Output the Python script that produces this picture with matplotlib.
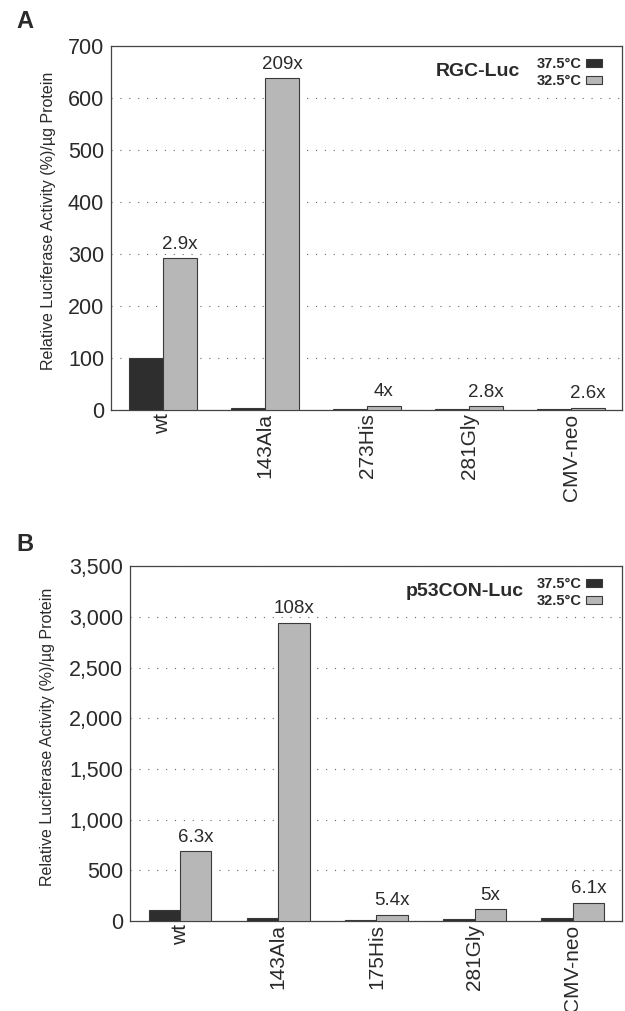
import matplotlib
matplotlib.use("Agg")
import matplotlib.pyplot as plt
import matplotlib.ticker as mticker
import numpy as np

plt.rcParams['font.family'] = ['Liberation Sans', 'DejaVu Sans']

# panel A: RGC-Luc
groups_a = ['wt', '143Ala', '273His', '281Gly', 'CMV-neo']
a_375 = [100, 3, 2, 2.5, 1.5]
a_325 = [292, 638, 8, 7, 4]
fold_a = ['2.9x', '209x', '4x', '2.8x', '2.6x']
ticks_a = [0, 100, 200, 300, 400, 500, 600, 700]

# panel B: p53CON-Luc
groups_b = ['wt', '143Ala', '175His', '281Gly', 'CMV-neo']
b_375 = [105, 27, 10, 20, 26]
b_325 = [690, 2940, 60, 115, 180]
fold_b = ['6.3x', '108x', '5.4x', '5x', '6.1x']
ticks_b = [0, 500, 1000, 1500, 2000, 2500, 3000, 3500]

temps = ['37.5°C', '32.5°C']
ylab = 'Relative Luciferase Activity (%)/µg Protein'

DARK = '#2e2e2e'
LIGHT = '#b7b7b7'
EDGE = '#3a3a3a'
TXT = '#2a2a2a'


def draw_panel(ax, groups, low, high, folds, ticks, title, title_x, width):
    x = np.arange(len(groups))
    b1 = ax.bar(x - width / 2, low, width, color=DARK, edgecolor=EDGE,
                linewidth=0.8, label=temps[0], zorder=3)
    b2 = ax.bar(x + width / 2, high, width, color=LIGHT, edgecolor=EDGE,
                linewidth=0.8, label=temps[1], zorder=3)
    for rect, lab in zip(b2, folds):
        ax.annotate(lab, (rect.get_x() + rect.get_width() / 2, rect.get_height()),
                    xytext=(0, 4), textcoords='offset points', ha='center',
                    va='bottom', fontsize=13.5, color=TXT)
    ax.set_xlim(-0.51, len(groups) - 0.5)
    ax.set_ylim(ticks[0], ticks[-1])
    ax.set_yticks(ticks)
    ax.yaxis.set_major_formatter(mticker.FuncFormatter(lambda v, p: f'{int(v):,}'))
    ax.set_xticks(x)
    ax.set_xticklabels(groups, rotation=90, fontsize=15, color=TXT)
    ax.tick_params(axis='y', length=0, labelsize=15.5, labelcolor=TXT, pad=5)
    ax.tick_params(axis='x', length=0, pad=2.5)
    ax.yaxis.grid(True, linestyle=(0, (1, 7)), color='#666666', linewidth=0.8, zorder=0)
    for s in ax.spines.values():
        s.set_color('#444444')
        s.set_linewidth(0.9)
    ax.set_ylabel(ylab, fontsize=11.5, color=TXT)
    ax.text(title_x, 0.93, title, transform=ax.transAxes, ha='center', va='center',
            fontsize=14, fontweight='bold', color=TXT)
    ax.legend(handles=[b1, b2], markerfirst=False, frameon=False, loc='upper right',
              bbox_to_anchor=(0.975, 0.99), handlelength=1.1,
              handleheight=0.45, handletextpad=0.3, labelspacing=0.2,
              borderpad=0, labelcolor=TXT,
              prop={'size': 10.5, 'weight': 'bold'})


fig = plt.figure(figsize=(6.25, 10.11), dpi=100)
ax_a = fig.add_axes([0.1776, 0.5945, 0.8176, 0.360])
ax_b = fig.add_axes([0.208, 0.089, 0.787, 0.351])

draw_panel(ax_a, groups_a, a_375, a_325, fold_a, ticks_a, 'RGC-Luc', 0.718, 0.333)
draw_panel(ax_b, groups_b, b_375, b_325, fold_b, ticks_b, 'p53CON-Luc', 0.68, 0.32)

ax_a.yaxis.set_label_coords(-0.108, 0.52)
ax_b.yaxis.set_label_coords(-0.152, 0.52)

fig.text(0.026, 0.990, 'A', fontsize=17, fontweight='bold', va='top', color=TXT)
fig.text(0.026, 0.473, 'B', fontsize=17, fontweight='bold', va='top', color=TXT)

fig.savefig('out.png', dpi=100, facecolor='white')
